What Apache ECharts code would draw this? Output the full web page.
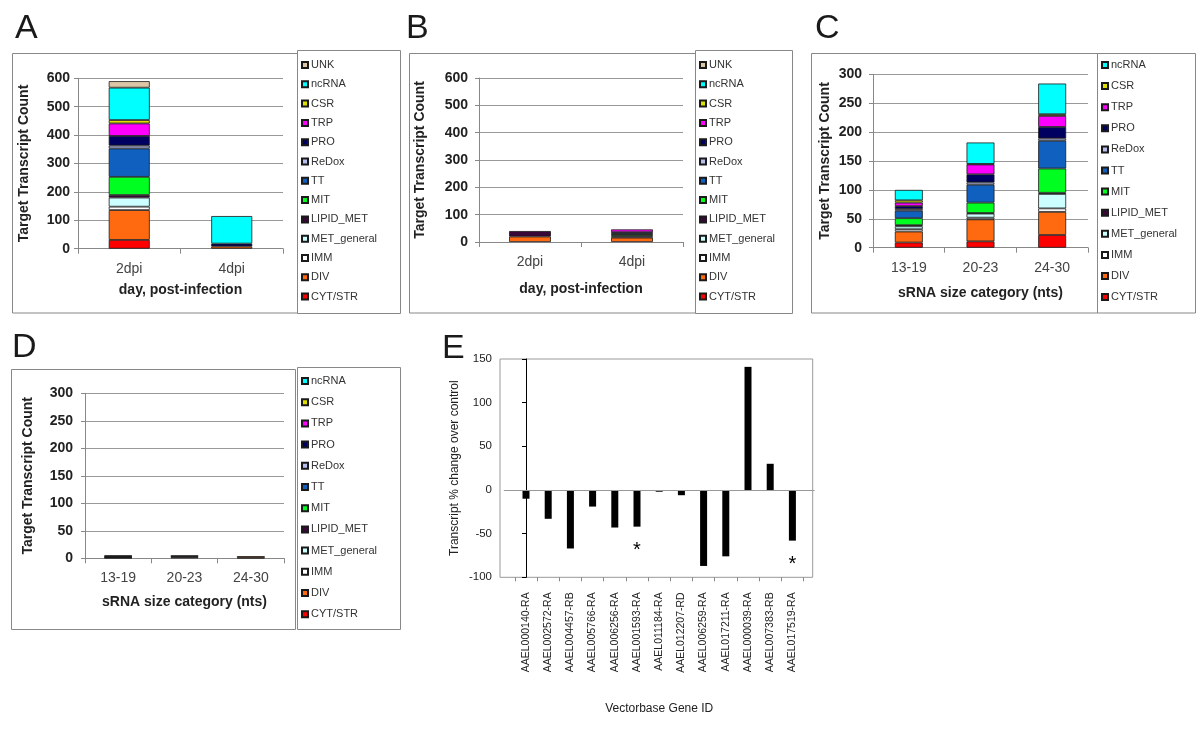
<!DOCTYPE html>
<html><head><meta charset="utf-8">
<script src="https://cdn.jsdelivr.net/npm/echarts@6/dist/echarts.min.js"></script>
<style>html,body{margin:0;padding:0;background:#fff}#c{width:1200px;height:731px}</style>
</head><body><div id="c"></div>
<script>
// ---------- data ----------
const categories = ['CYT/STR','DIV','IMM','MET_general','LIPID_MET','MIT','TT','ReDox','PRO','TRP','CSR','ncRNA','UNK'];
const dpiLabels = ['2dpi','4dpi'];
const sizeLabels = ['13-19','20-23','24-30'];
// values ordered as in `categories`
const panelA_2dpi = [31,105,12,32,9,64,100,10,34,44,12,114,23];
const panelA_4dpi = [0,8,0,0,0,0,0,0,10,0,0,97,0];
const panelB_2dpi = [0,20,0,0,20,0,0,0,0,0,0,0,0];
const panelB_4dpi = [0,16,0,0,5,5,4,0,6,10,0,0,0];
const panelC_13_19 = [9,19,4,5,2,12,13,3,5,6,4,18];
const panelC_20_23 = [11,38,3,7,1,18,31,4,14,17,1,37];
const panelC_24_30 = [22,40,6,25,2,42,48,4,20,19,3,53];
const panelD_13_19 = [0,1,1,0,1,0,1,0,1,0,0,0];
const panelD_20_23 = [0,2,0,0,2,0,0,0,1,0,0,0];
const panelD_24_30 = [1,3,0,0,0,0,0,0,0,0,0,0];
const geneIds = ['AAEL000140-RA','AAEL002572-RA','AAEL004457-RB','AAEL005766-RA','AAEL006256-RA','AAEL001593-RA','AAEL011184-RA','AAEL012207-RD','AAEL006259-RA','AAEL017211-RA','AAEL000039-RA','AAEL007383-RB','AAEL017519-RA'];
const pctChange = [-10,-33,-67,-19,-43,-42,-2,-6,-87,-76,141,30,-58];
const significant = [0,0,0,0,0,1,0,0,0,0,0,0,1];

// ---------- styles ----------
const colorOf = {'CYT/STR':'#ff0000','DIV':'#ff6a10','IMM':'#ffffff','MET_general':'#ccffff','LIPID_MET':'#3a0838','MIT':'#00ff20','TT':'#1060c0','ReDox':'#b8bfee','PRO':'#000060','TRP':'#ff00ff','CSR':'#e0e000','ncRNA':'#00ffff','UNK':'#dcc6a6'};
const FONT = '"Liberation Sans", Arial, sans-serif';

function stackSeries(stackId, groups, axisIdx, nCats, barWidth){
  const out = [];
  for(let k=0;k<nCats;k++){
    const name = categories[k];
    out.push({
      name, type:'bar', stack:stackId, xAxisIndex:axisIdx, yAxisIndex:axisIdx,
      barWidth, animation:false,
      data: groups.map(g => g[k] ? g[k] : null),
      itemStyle:{color:colorOf[name], borderColor:'#1a1a1a', borderWidth:0.8}
    });
  }
  return out;
}

const grids = [
  {left:78, top:78.3, width:205, height:170.4},
  {left:479, top:78, width:204, height:164},
  {left:873, top:74.3, width:215, height:173.4},
  {left:85, top:393.3, width:199, height:165},
  {left:503.8, top:359, width:310.8, height:218.3}
];

function catAxis(i, data, name, nameGap){
  return {type:'category', gridIndex:i, data,
    axisLine:{lineStyle:{color:'#888'}},
    axisTick:{show:true, length:5, lineStyle:{color:'#888'}},
    axisLabel:{fontFamily:FONT, fontSize:14, color:'#444', margin:13},
    name, nameLocation:'middle', nameGap,
    nameTextStyle:{fontFamily:FONT, fontSize:14, fontWeight:'bold', color:'#222'}};
}
function valAxis(i, max, interval, nameGap, margin){
  return {type:'value', gridIndex:i, min:0, max, interval,
    axisLine:{show:true, lineStyle:{color:'#888'}},
    axisTick:{show:true, length:4, lineStyle:{color:'#888'}},
    splitLine:{show:true, lineStyle:{color:'#999', width:1}},
    axisLabel:{fontFamily:FONT, fontSize:14, fontWeight:'bold', color:'#222', margin},
    name:'Target Transcript Count', nameLocation:'middle', nameGap,
    nameTextStyle:{fontFamily:FONT, fontSize:14, fontWeight:'bold', color:'#222'}};
}

const xAxes = [
  catAxis(0, dpiLabels, 'day, post-infection', 34),
  catAxis(1, dpiLabels, 'day, post-infection', 40),
  catAxis(2, sizeLabels, 'sRNA size category (nts)', 38),
  catAxis(3, sizeLabels, 'sRNA size category (nts)', 37),
  {type:'value', gridIndex:4, min:-1, max:geneIds.length, interval:1, position:'bottom',
    axisLine:{show:false, onZero:false},
    axisTick:{show:false},
    minorTick:{show:true, splitNumber:2, length:4, lineStyle:{color:'#888'}},
    splitLine:{show:false},
    axisLabel:{fontFamily:FONT, fontSize:10.5, color:'#222', rotate:90, margin:15,
      formatter:(v)=> (geneIds[v] !== undefined ? geneIds[v] : '')},
    name:'Vectorbase Gene ID', nameLocation:'middle', nameGap:125,
    nameTextStyle:{fontFamily:FONT, fontSize:12, color:'#222'}}
];
const yAxes = [
  valAxis(0, 600, 100, 47, 8),
  valAxis(1, 600, 100, 52, 11),
  valAxis(2, 300, 50, 41, 11),
  valAxis(3, 300, 50, 50, 12),
  {type:'value', gridIndex:4, min:-100, max:150, interval:50, offset:3.8,
    axisLine:{show:true, lineStyle:{color:'#000'}},
    axisTick:{show:true, length:4, lineStyle:{color:'#000'}},
    splitLine:{show:false},
    axisLabel:{fontFamily:FONT, fontSize:11.5, color:'#222', margin:8},
    name:'Transcript % change over control', nameLocation:'middle', nameGap:39,
    nameTextStyle:{fontFamily:FONT, fontSize:12, color:'#222'}}
];

const series = [].concat(
  stackSeries('A', [panelA_2dpi, panelA_4dpi], 0, 13, '40%'),
  stackSeries('B', [panelB_2dpi, panelB_4dpi], 1, 13, '41%'),
  stackSeries('C', [panelC_13_19, panelC_20_23, panelC_24_30], 2, 12, '39%'),
  stackSeries('D', [panelD_13_19, panelD_20_23, panelD_24_30], 3, 12, '42%'),
  [{type:'bar', name:'pct', xAxisIndex:4, yAxisIndex:4, barWidth:7, animation:false,
    itemStyle:{color:'#000'},
    label:{show:false, position:'bottom', distance:14, formatter:'*', fontSize:20, color:'#000', fontFamily:FONT},
    data: pctChange.map((v,i)=> significant[i] ? {value:[i,v], label:{show:true}} : [i,v]),
    markLine:{silent:true, symbol:'none', animation:false, label:{show:false},
      lineStyle:{color:'#999', type:'solid', width:1}, data:[{yAxis:0}]}
  }]
);

const legendAll = categories.slice().reverse();
const legendNoUnk = categories.slice(0,12).reverse();
function legend(data, left, top, gap){
  return {data, left, top, orient:'vertical', padding:0, itemGap:gap,
    itemWidth:6, itemHeight:6, icon:'rect', selectedMode:false,
    textStyle:{fontFamily:FONT, fontSize:11, color:'#333', lineHeight:12, padding:[0,0,0,-2]}};
}

function box(x,y,w,h){return {type:'rect', shape:{x,y,width:w,height:h}, style:{fill:'none', stroke:'#888', lineWidth:1}, silent:true};}
function letter(t,x,y){return {type:'text', left:x, top:y, style:{text:t, font:'34px ' + FONT, fill:'#1a1a1a'}, silent:true};}

const chart = echarts.init(document.getElementById('c'), null, {renderer:'canvas'});
chart.setOption({
  backgroundColor:'#fff',
  animation:false,
  grid:grids,
  xAxis:xAxes,
  yAxis:yAxes,
  series,
  legend:[
    legend(legendAll, 301, 59, 7.3),
    legend(legendAll, 699, 59, 7.3),
    legend(legendNoUnk, 1101, 59, 9.1),
    legend(legendNoUnk, 301, 375, 9.2)
  ],
  graphic:[
    box(12.5,53.5,285,259.5), box(297.5,50.5,103,263),
    box(409.5,53.5,286,259.5), box(695.5,50.5,97,263),
    box(811.5,53.5,286,259.5), box(1097.5,53.5,98,259.5),
    box(11.5,369.5,284,260), box(297.5,367.5,103,262),
    {type:'rect', shape:{x:500,y:359,width:312.7,height:218.3}, style:{fill:'none', stroke:'#999', lineWidth:1}, silent:true},
    letter('A',15,12), letter('B',406,12), letter('C',815,12), letter('D',12,331), letter('E',442,332)
  ]
});
</script></body></html>
